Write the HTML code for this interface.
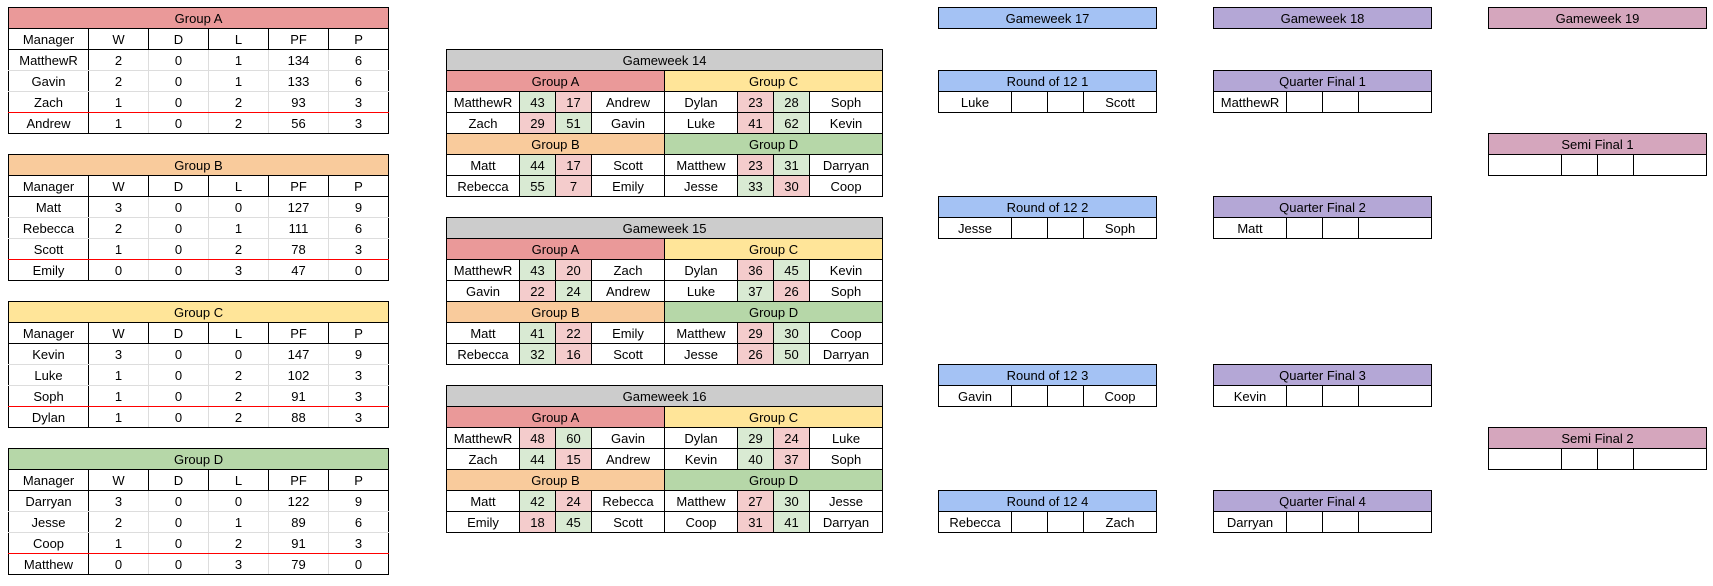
<!DOCTYPE html>
<html><head><meta charset="utf-8"><style>
body{margin:0;width:1713px;height:586px;background:#fff;position:relative;overflow:hidden;font-family:"Liberation Sans",Arial,sans-serif;font-size:13px;color:#000}
table{border-collapse:collapse;table-layout:fixed;position:absolute;font-size:13px}
td{border:1px solid #000;height:20px;padding:0;text-align:center;white-space:nowrap;overflow:hidden;line-height:19px}
.g td{border-color:#ddd}
.g tr.t td,.g tr.h td{border-color:#000}
.g td:first-child{border-left-color:#000;border-right-color:#000}
.g td:last-child{border-right-color:#000}
.g tr:last-child td{border-bottom-color:#000}
.g tr.rb td{border-bottom-color:#f00}
.g tr.rt td{border-top-color:#f00}
.ca{background:#ea9999}.cb{background:#f9cb9c}.cc{background:#ffe599}.cd{background:#b6d7a8}
.gr{background:#cccccc}.bl{background:#a4c2f4}.pu{background:#b4a7d6}.pk{background:#d5a6bd}
.w{background:#d9ead3}.l{background:#f4cccc}
.b{font-family:"Liberation Sans Narrow","Liberation Sans",Arial,sans-serif}
</style></head><body>

<table class="g" style="left:8px;top:7px;width:380px">
<colgroup><col style="width:80px"><col style="width:60px"><col style="width:60px"><col style="width:60px"><col style="width:60px"><col style="width:60px"></colgroup>
<tr class="t"><td colspan="6" class="ca">Group A</td></tr>
<tr class="h"><td>Manager</td><td>W</td><td>D</td><td>L</td><td>PF</td><td>P</td></tr>
<tr><td>MatthewR</td><td>2</td><td>0</td><td>1</td><td>134</td><td>6</td></tr>
<tr><td>Gavin</td><td>2</td><td>0</td><td>1</td><td>133</td><td>6</td></tr>
<tr class="rb"><td>Zach</td><td>1</td><td>0</td><td>2</td><td>93</td><td>3</td></tr>
<tr class="rt"><td>Andrew</td><td>1</td><td>0</td><td>2</td><td>56</td><td>3</td></tr>
</table>

<table class="g" style="left:8px;top:154px;width:380px">
<colgroup><col style="width:80px"><col style="width:60px"><col style="width:60px"><col style="width:60px"><col style="width:60px"><col style="width:60px"></colgroup>
<tr class="t"><td colspan="6" class="cb">Group B</td></tr>
<tr class="h"><td>Manager</td><td>W</td><td>D</td><td>L</td><td>PF</td><td>P</td></tr>
<tr><td>Matt</td><td>3</td><td>0</td><td>0</td><td>127</td><td>9</td></tr>
<tr><td>Rebecca</td><td>2</td><td>0</td><td>1</td><td>111</td><td>6</td></tr>
<tr class="rb"><td>Scott</td><td>1</td><td>0</td><td>2</td><td>78</td><td>3</td></tr>
<tr class="rt"><td>Emily</td><td>0</td><td>0</td><td>3</td><td>47</td><td>0</td></tr>
</table>

<table class="g" style="left:8px;top:301px;width:380px">
<colgroup><col style="width:80px"><col style="width:60px"><col style="width:60px"><col style="width:60px"><col style="width:60px"><col style="width:60px"></colgroup>
<tr class="t"><td colspan="6" class="cc">Group C</td></tr>
<tr class="h"><td>Manager</td><td>W</td><td>D</td><td>L</td><td>PF</td><td>P</td></tr>
<tr><td>Kevin</td><td>3</td><td>0</td><td>0</td><td>147</td><td>9</td></tr>
<tr><td>Luke</td><td>1</td><td>0</td><td>2</td><td>102</td><td>3</td></tr>
<tr class="rb"><td>Soph</td><td>1</td><td>0</td><td>2</td><td>91</td><td>3</td></tr>
<tr class="rt"><td>Dylan</td><td>1</td><td>0</td><td>2</td><td>88</td><td>3</td></tr>
</table>

<table class="g" style="left:8px;top:448px;width:380px">
<colgroup><col style="width:80px"><col style="width:60px"><col style="width:60px"><col style="width:60px"><col style="width:60px"><col style="width:60px"></colgroup>
<tr class="t"><td colspan="6" class="cd">Group D</td></tr>
<tr class="h"><td>Manager</td><td>W</td><td>D</td><td>L</td><td>PF</td><td>P</td></tr>
<tr><td>Darryan</td><td>3</td><td>0</td><td>0</td><td>122</td><td>9</td></tr>
<tr><td>Jesse</td><td>2</td><td>0</td><td>1</td><td>89</td><td>6</td></tr>
<tr class="rb"><td>Coop</td><td>1</td><td>0</td><td>2</td><td>91</td><td>3</td></tr>
<tr class="rt"><td>Matthew</td><td>0</td><td>0</td><td>3</td><td>79</td><td>0</td></tr>
</table>

<table style="left:446px;top:49px;width:436px">
<colgroup><col style="width:73px"><col style="width:36px"><col style="width:36px"><col style="width:73px"><col style="width:73px"><col style="width:36px"><col style="width:36px"><col style="width:73px"></colgroup>
<tr><td colspan="8" class="gr">Gameweek 14</td></tr>
<tr><td colspan="4" class="ca">Group A</td><td colspan="4" class="cc">Group C</td></tr>
<tr><td>MatthewR</td><td class="w">43</td><td class="l">17</td><td>Andrew</td><td>Dylan</td><td class="l">23</td><td class="w">28</td><td>Soph</td></tr>
<tr><td>Zach</td><td class="l">29</td><td class="w">51</td><td>Gavin</td><td>Luke</td><td class="l">41</td><td class="w">62</td><td>Kevin</td></tr>
<tr><td colspan="4" class="cb">Group B</td><td colspan="4" class="cd">Group D</td></tr>
<tr><td>Matt</td><td class="w">44</td><td class="l">17</td><td>Scott</td><td>Matthew</td><td class="l">23</td><td class="w">31</td><td>Darryan</td></tr>
<tr><td>Rebecca</td><td class="w">55</td><td class="l">7</td><td>Emily</td><td>Jesse</td><td class="w">33</td><td class="l">30</td><td>Coop</td></tr>
</table>

<table style="left:446px;top:217px;width:436px">
<colgroup><col style="width:73px"><col style="width:36px"><col style="width:36px"><col style="width:73px"><col style="width:73px"><col style="width:36px"><col style="width:36px"><col style="width:73px"></colgroup>
<tr><td colspan="8" class="gr">Gameweek 15</td></tr>
<tr><td colspan="4" class="ca">Group A</td><td colspan="4" class="cc">Group C</td></tr>
<tr><td>MatthewR</td><td class="w">43</td><td class="l">20</td><td>Zach</td><td>Dylan</td><td class="l">36</td><td class="w">45</td><td>Kevin</td></tr>
<tr><td>Gavin</td><td class="l">22</td><td class="w">24</td><td>Andrew</td><td>Luke</td><td class="w">37</td><td class="l">26</td><td>Soph</td></tr>
<tr><td colspan="4" class="cb">Group B</td><td colspan="4" class="cd">Group D</td></tr>
<tr><td>Matt</td><td class="w">41</td><td class="l">22</td><td>Emily</td><td>Matthew</td><td class="l">29</td><td class="w">30</td><td>Coop</td></tr>
<tr><td>Rebecca</td><td class="w">32</td><td class="l">16</td><td>Scott</td><td>Jesse</td><td class="l">26</td><td class="w">50</td><td>Darryan</td></tr>
</table>

<table style="left:446px;top:385px;width:436px">
<colgroup><col style="width:73px"><col style="width:36px"><col style="width:36px"><col style="width:73px"><col style="width:73px"><col style="width:36px"><col style="width:36px"><col style="width:73px"></colgroup>
<tr><td colspan="8" class="gr">Gameweek 16</td></tr>
<tr><td colspan="4" class="ca">Group A</td><td colspan="4" class="cc">Group C</td></tr>
<tr><td>MatthewR</td><td class="l">48</td><td class="w">60</td><td>Gavin</td><td>Dylan</td><td class="w">29</td><td class="l">24</td><td>Luke</td></tr>
<tr><td>Zach</td><td class="w">44</td><td class="l">15</td><td>Andrew</td><td>Kevin</td><td class="w">40</td><td class="l">37</td><td>Soph</td></tr>
<tr><td colspan="4" class="cb">Group B</td><td colspan="4" class="cd">Group D</td></tr>
<tr><td>Matt</td><td class="w">42</td><td class="l">24</td><td>Rebecca</td><td>Matthew</td><td class="l">27</td><td class="w">30</td><td>Jesse</td></tr>
<tr><td>Emily</td><td class="l">18</td><td class="w">45</td><td>Scott</td><td>Coop</td><td class="l">31</td><td class="w">41</td><td>Darryan</td></tr>
</table>

<!-- Bracket -->
<table style="left:938px;top:7px;width:219px"><tr><td class="bl">Gameweek 17</td></tr></table>
<table style="left:1213px;top:7px;width:219px"><tr><td class="pu">Gameweek 18</td></tr></table>
<table style="left:1488px;top:7px;width:219px"><tr><td class="pk">Gameweek 19</td></tr></table>

<table style="left:938px;top:70px;width:219px"><colgroup><col style="width:73px"><col style="width:36px"><col style="width:36px"><col style="width:73px"></colgroup>
<tr><td colspan="4" class="bl">Round of 12 1</td></tr><tr><td>Luke</td><td></td><td></td><td>Scott</td></tr></table>
<table style="left:938px;top:196px;width:219px"><colgroup><col style="width:73px"><col style="width:36px"><col style="width:36px"><col style="width:73px"></colgroup>
<tr><td colspan="4" class="bl">Round of 12 2</td></tr><tr><td>Jesse</td><td></td><td></td><td>Soph</td></tr></table>
<table style="left:938px;top:364px;width:219px"><colgroup><col style="width:73px"><col style="width:36px"><col style="width:36px"><col style="width:73px"></colgroup>
<tr><td colspan="4" class="bl">Round of 12 3</td></tr><tr><td>Gavin</td><td></td><td></td><td>Coop</td></tr></table>
<table style="left:938px;top:490px;width:219px"><colgroup><col style="width:73px"><col style="width:36px"><col style="width:36px"><col style="width:73px"></colgroup>
<tr><td colspan="4" class="bl">Round of 12 4</td></tr><tr><td>Rebecca</td><td></td><td></td><td>Zach</td></tr></table>

<table style="left:1213px;top:70px;width:219px"><colgroup><col style="width:73px"><col style="width:36px"><col style="width:36px"><col style="width:73px"></colgroup>
<tr><td colspan="4" class="pu">Quarter Final 1</td></tr><tr><td>MatthewR</td><td></td><td></td><td></td></tr></table>
<table style="left:1213px;top:196px;width:219px"><colgroup><col style="width:73px"><col style="width:36px"><col style="width:36px"><col style="width:73px"></colgroup>
<tr><td colspan="4" class="pu">Quarter Final 2</td></tr><tr><td>Matt</td><td></td><td></td><td></td></tr></table>
<table style="left:1213px;top:364px;width:219px"><colgroup><col style="width:73px"><col style="width:36px"><col style="width:36px"><col style="width:73px"></colgroup>
<tr><td colspan="4" class="pu">Quarter Final 3</td></tr><tr><td>Kevin</td><td></td><td></td><td></td></tr></table>
<table style="left:1213px;top:490px;width:219px"><colgroup><col style="width:73px"><col style="width:36px"><col style="width:36px"><col style="width:73px"></colgroup>
<tr><td colspan="4" class="pu">Quarter Final 4</td></tr><tr><td>Darryan</td><td></td><td></td><td></td></tr></table>

<table style="left:1488px;top:133px;width:219px"><colgroup><col style="width:73px"><col style="width:36px"><col style="width:36px"><col style="width:73px"></colgroup>
<tr><td colspan="4" class="pk">Semi Final 1</td></tr><tr><td></td><td></td><td></td><td></td></tr></table>
<table style="left:1488px;top:427px;width:219px"><colgroup><col style="width:73px"><col style="width:36px"><col style="width:36px"><col style="width:73px"></colgroup>
<tr><td colspan="4" class="pk">Semi Final 2</td></tr><tr><td></td><td></td><td></td><td></td></tr></table>

</body></html>
